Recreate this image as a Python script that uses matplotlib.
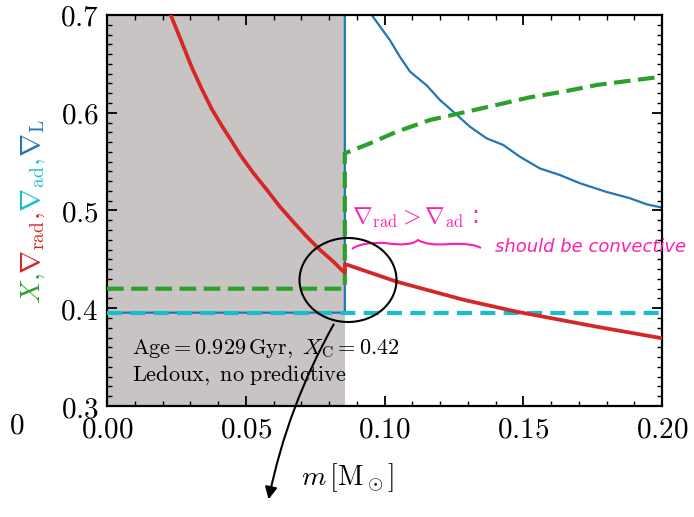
import numpy as np
import matplotlib
matplotlib.use("Agg")
import matplotlib.pyplot as plt
from matplotlib.ticker import MultipleLocator, FuncFormatter
from matplotlib.patches import Ellipse, PathPatch
from matplotlib.path import Path

plt.rcParams["mathtext.fontset"] = "cm"
plt.rcParams["font.family"] = "serif"
plt.rcParams["font.serif"] = ["DejaVu Serif"]

# convective core boundary [Msun]
M_CORE = 0.0857

# nabla_rad (jumps at the core boundary)
m_rad = [0.021, 0.0231, 0.0269, 0.0305, 0.0341, 0.0377, 0.0413, 0.0449, 0.0481,
         0.0527, 0.0575, 0.0623, 0.0671, 0.0720, 0.0768, 0.0816, 0.0846, M_CORE,
         M_CORE, 0.1044, 0.1284, 0.1476, 0.1765, 0.2]
nabla_rad = [0.715, 0.699, 0.6724, 0.6468, 0.6246, 0.6041, 0.587, 0.571, 0.5565,
             0.5385, 0.5215, 0.5039, 0.4885, 0.4732, 0.4596, 0.4476, 0.4391, 0.4365,
             0.4453, 0.4272, 0.4087, 0.3965, 0.3811, 0.3693]

# nabla_ad, flat
m_ad = [0.0, 0.2]
nabla_ad = [0.3955, 0.3955]

# nabla_L
m_L = [0.0, M_CORE, M_CORE, 0.0905, 0.0954, 0.102, 0.1056, 0.1092, 0.1152, 0.120,
       0.1248, 0.1308, 0.1368, 0.1428, 0.1488, 0.156, 0.1632, 0.1705, 0.180,
       0.1885, 0.1945, 0.2]
nabla_L = [0.3955, 0.3955, 0.76, 0.735, 0.700, 0.674, 0.657, 0.642, 0.628, 0.613,
           0.601, 0.5857, 0.5738, 0.567, 0.555, 0.543, 0.5363, 0.5278, 0.519,
           0.5125, 0.5063, 0.5030]

# hydrogen fraction X
m_X = [0.0, M_CORE, M_CORE, 0.0948, 0.1044, 0.1164, 0.126, 0.1404, 0.1524,
       0.1645, 0.1765, 0.1885, 0.2]
X = [0.42, 0.42, 0.5585, 0.5687, 0.5806, 0.5926, 0.5987, 0.608, 0.6158,
     0.6216, 0.6284, 0.6328, 0.6369]

C_X = "#2ca02c"
C_RAD = "#d62728"
C_AD = "#17becf"
C_L = "#1f77b4"
PINK = "#ff1fae"

fig = plt.figure(figsize=(6.94, 5.17), dpi=100)
ax = fig.add_axes([0.1542, 0.2147, 0.7997, 0.7563])

ax.axvspan(0, M_CORE, color="#c8c4c4", lw=0, zorder=0)
ax.plot(m_L, nabla_L, color=C_L, lw=1.6, zorder=2)
ax.plot(m_X, X, color=C_X, lw=3.0, ls=(0, (4, 1.8)), zorder=3)
ax.plot(m_ad, nabla_ad, color=C_AD, lw=3.0, ls=(0, (3.6, 2.0)), zorder=3)
ax.plot(m_rad, nabla_rad, color=C_RAD, lw=2.7, zorder=4)

ax.set_xlim(0, 0.2)
ax.set_ylim(0.3, 0.7)
ax.xaxis.set_major_locator(MultipleLocator(0.05))
ax.xaxis.set_minor_locator(MultipleLocator(0.01))
ax.yaxis.set_major_locator(MultipleLocator(0.1))
ax.yaxis.set_minor_locator(MultipleLocator(0.01))
ax.xaxis.set_major_formatter(FuncFormatter(lambda v, p: f"${v:.2f}$"))
ax.yaxis.set_major_formatter(FuncFormatter(lambda v, p: f"${v:.1f}$"))
ax.tick_params(which="both", direction="in", top=True, right=True, labelsize=21)
ax.tick_params(which="major", length=7, width=1.3)
ax.tick_params(which="minor", length=3.5, width=1.0)
ax.tick_params(axis="x", pad=7)
ax.tick_params(axis="y", pad=6)
for s in ax.spines.values():
    s.set_linewidth(1.6)

ax.text(0.045, 0.148, r"$\mathrm{Age} = 0.929\,\mathrm{Gyr},\ X_\mathrm{C} = 0.42$",
        transform=ax.transAxes, fontsize=16, va="center", ha="left")
ax.text(0.045, 0.079, r"$\mathrm{Ledoux,\ no\ predictive}$",
        transform=ax.transAxes, fontsize=16, va="center", ha="left")

fig.text(0.5, 0.077, r"$m\,[\mathrm{M}_\odot]$", fontsize=20, ha="center", va="center")
fig.text(17 / 694, 1 - 425 / 517, r"$0$", fontsize=21, ha="center", va="center")

# multicoloured y label, stacked bottom to top
pieces = [(r"$X,\ $", C_X), (r"$\nabla_\mathrm{rad},\ $", C_RAD),
          (r"$\nabla_\mathrm{ad},\ $", C_AD), (r"$\nabla_\mathrm{L}$", C_L)]
renderer = fig.canvas.get_renderer()
texts = []
for s, c in pieces:
    texts.append(fig.text(33 / 694, 0, s, color=c, fontsize=20, rotation=90,
                          ha="center", va="bottom"))
heights = [t.get_window_extent(renderer).height for t in texts]
y0 = (517 - 212) - sum(heights) / 2
for t, h in zip(texts, heights):
    t.set_position((33 / 694, y0 / 517))
    y0 += h


# hand annotations, placed in pixel positions of the axes box
def px(x, y):
    return ((x - 107) / 2775, 0.7 - (y - 15) / 977.5)


ax.text(*px(352, 218), r"$\nabla_\mathrm{rad} > \nabla_\mathrm{ad}$ :", color=PINK,
        fontsize=17, va="center", ha="left", clip_on=False, family="DejaVu Sans")
ax.text(*px(495, 247), "should be convective", color=PINK, fontsize=13,
        va="center", ha="left", clip_on=False, family="DejaVu Sans", style="italic")

brace = [px(352, 249), px(360, 242), px(385, 243), px(410, 247), px(418, 240),
         px(427, 246), px(450, 244), px(473, 243), px(481, 248), px(483, 258)]
verts = [brace[0]]
codes = [Path.MOVETO]
for i in range(1, len(brace) - 1, 2):
    verts += [brace[i], brace[i + 1]]
    codes += [Path.CURVE3, Path.CURVE3]
ax.add_patch(PathPatch(Path(verts, codes), fill=False, ec=PINK, lw=1.5, clip_on=False))

ax.add_patch(Ellipse(px(348, 280), 97 / 2775, 84 / 977.5, angle=0, fill=False,
                     ec="black", lw=1.5, zorder=6, clip_on=False))
ax.annotate("", xy=px(268, 502), xytext=px(335, 322), annotation_clip=False,
            arrowprops=dict(arrowstyle="-|>", color="black", lw=1.5,
                            mutation_scale=18, connectionstyle="arc3,rad=0.08"))

fig.savefig("out.png", dpi=100)
